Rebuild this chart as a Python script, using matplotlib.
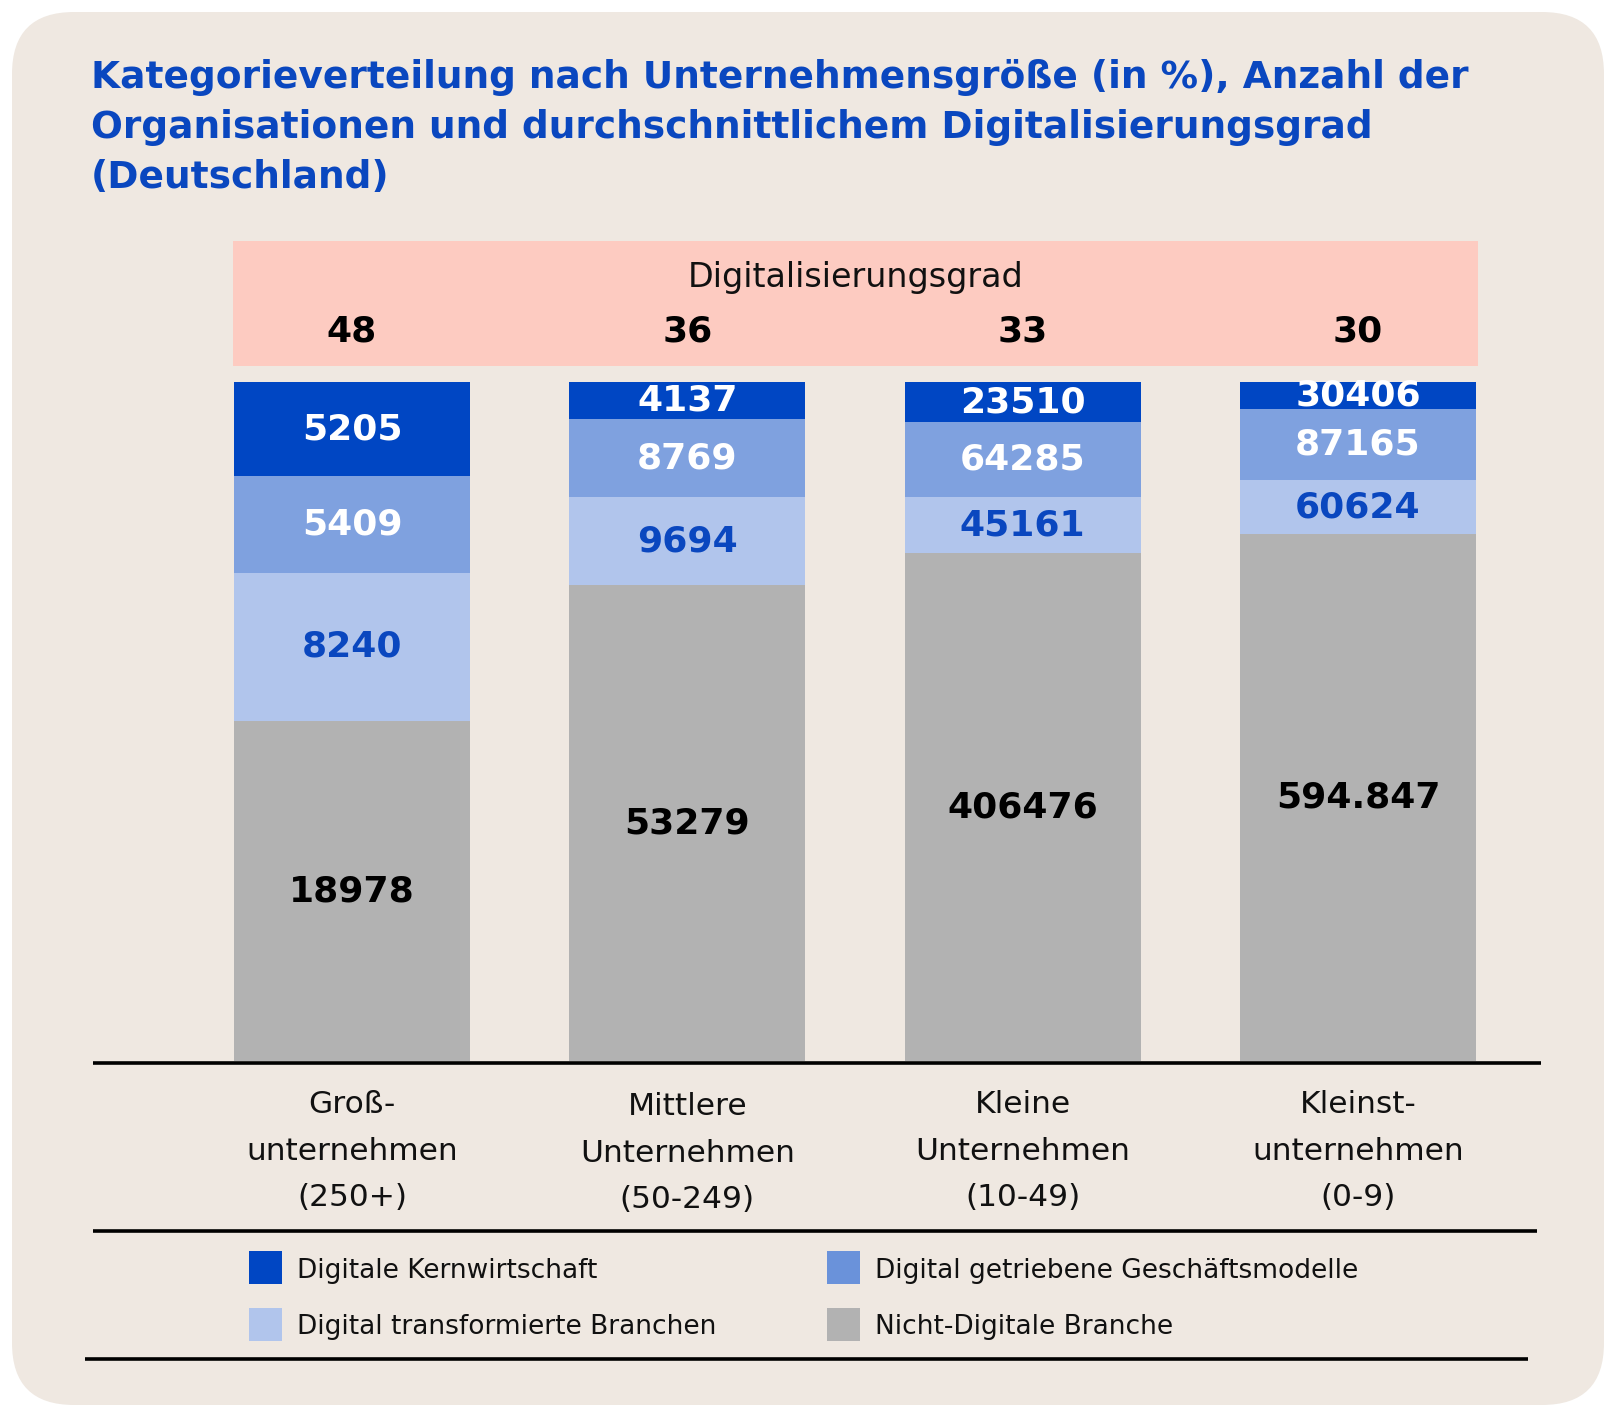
import matplotlib
matplotlib.use("Agg")
import matplotlib.pyplot as plt
import numpy as np
from matplotlib.patches import FancyBboxPatch, Rectangle
from matplotlib.transforms import blended_transform_factory

# ---------------- data ----------------
title_lines = [
    "Kategorieverteilung nach Unternehmensgröße (in %), Anzahl der",
    "Organisationen und durchschnittlichem Digitalisierungsgrad",
    "(Deutschland)",
]
categories = [
    ["Groß-", "unternehmen", "(250+)"],
    ["Mittlere", "Unternehmen", "(50-249)"],
    ["Kleine", "Unternehmen", "(10-49)"],
    ["Kleinst-", "unternehmen", "(0-9)"],
]
header_label = "Digitalisierungsgrad"
digital_degree = [48, 36, 33, 30]

series_names = [
    "Digitale Kernwirtschaft",
    "Digital getriebene Geschäftsmodelle",
    "Digital transformierte Branchen",
    "Nicht-Digitale Branche",
]
# share of each category within the size class (%)
share_kern = [13.8, 5.5, 5.9, 4.0]
share_getrieben = [14.3, 11.5, 11.0, 10.5]
share_transformiert = [21.8, 12.9, 8.3, 7.9]
share_nicht = [50.1, 70.1, 74.8, 77.6]
# number of organisations (printed labels)
count_kern = ["5205", "4137", "23510", "30406"]
count_getrieben = ["5409", "8769", "64285", "87165"]
count_transformiert = ["8240", "9694", "45161", "60624"]
count_nicht = ["18978", "53279", "406476", "594.847"]

# ---------------- style ----------------
BG = "#EFE8E1"
TITLE_BLUE = "#0A47BF"
bar_colors = ["#0046C3", "#7FA1DF", "#B1C5EC", "#B2B2B2"]
legend_colors = ["#0046C3", "#6A92DA", "#B1C5EC", "#B2B2B2"]
label_colors = ["white", "white", "#0A47BF", "black"]
PINK = "#FDCBC1"
FONT = "DejaVu Sans"

W, H = 1618, 1417
fig = plt.figure(figsize=(W / 100, H / 100), dpi=100)
fig.patch.set_facecolor("white")

bg = fig.add_axes([0, 0, 1, 1])
bg.set_xlim(0, W)
bg.set_ylim(H, 0)
bg.axis("off")
bg.add_patch(FancyBboxPatch((12, 12), 1592, 1393,
                            boxstyle="round,pad=0,rounding_size=62",
                            facecolor=BG, edgecolor="none"))

# title, fitted to its measured width
renderer = fig.canvas.get_renderer()
t = bg.text(91, 88, title_lines[0], fontsize=28, fontweight="bold",
            color=TITLE_BLUE, family=FONT, va="baseline", ha="left")
w = t.get_window_extent(renderer).width
tsize = 28 * 1375 / w
t.set_fontsize(tsize)
for i, line in enumerate(title_lines[1:]):
    bg.text(91, 138 + 49.5 * i, line, fontsize=tsize, fontweight="bold",
            color=TITLE_BLUE, family=FONT, va="baseline", ha="left")

# pink header band
bg.add_patch(Rectangle((233, 241), 1245, 125, facecolor=PINK, edgecolor="none"))
bg.text(855.5, 287, header_label, fontsize=24, family=FONT, color="#111111",
        ha="center", va="baseline")

# bars axes
left_px, right_px = 184.4, 184.4 + 1341.2
top_px, bottom_px = 382, 1061
ax = fig.add_axes([left_px / W, (H - bottom_px) / H,
                   (right_px - left_px) / W, (bottom_px - top_px) / H])
ax.set_xlim(-0.5, 3.5)
ax.set_ylim(0, 100)
ax.axis("off")
ax.patch.set_alpha(0)

x = np.arange(len(categories))
shares = [share_kern, share_getrieben, share_transformiert, share_nicht]
counts = [count_kern, count_getrieben, count_transformiert, count_nicht]

label_fs = 26
cap_px = 0.729 * label_fs * 100 / 72
dy = (cap_px / 2 - 3) * 100 / (bottom_px - top_px)

bottom = np.zeros(len(x))
for s_idx in [3, 2, 1, 0]:
    vals = np.array(shares[s_idx])
    ax.bar(x, vals, bottom=bottom, width=0.704, color=bar_colors[s_idx],
           edgecolor="none")
    for i in range(len(x)):
        ax.text(x[i], bottom[i] + vals[i] / 2 - dy, counts[s_idx][i],
                ha="center", va="baseline", fontsize=label_fs,
                fontweight="bold", color=label_colors[s_idx], family=FONT)
    bottom = bottom + vals

# header numbers and category labels (x from bar axis, y in pixels)
tr = blended_transform_factory(ax.transData, bg.transData)
for i, v in enumerate(digital_degree):
    bg.text(x[i], 341, str(v), transform=tr, ha="center", va="baseline",
            fontsize=label_fs, fontweight="bold", color="black", family=FONT)
for i, lines in enumerate(categories):
    shift = 2 if i == 1 else 0
    for j, line in enumerate(lines):
        bg.text(x[i], 1113 + shift + 46.5 * j, line, transform=tr, ha="center",
                va="baseline", fontsize=22.5, color="#111111", family=FONT)

# rules
lw = 2.6
bg.plot([93, 1541], [1063, 1063], color="black", lw=lw, solid_capstyle="butt")
bg.plot([93, 1537], [1230.5, 1230.5], color="black", lw=lw, solid_capstyle="butt")
bg.plot([85, 1528], [1359, 1359], color="black", lw=lw, solid_capstyle="butt")

# legend (two columns, two rows)
leg_pos = [(249, 1251), (827, 1251), (249, 1308), (827, 1308)]
leg_order = [0, 1, 2, 3]
for (lx, ly), s_idx in zip(leg_pos, leg_order):
    bg.add_patch(Rectangle((lx, ly), 33, 33, facecolor=legend_colors[s_idx],
                           edgecolor="none"))
    bg.text(lx + 48, ly + 26.5, series_names[s_idx], fontsize=19,
            family=FONT, color="#111111", ha="left", va="baseline")

fig.savefig("out.png", dpi=100, facecolor=fig.get_facecolor())
